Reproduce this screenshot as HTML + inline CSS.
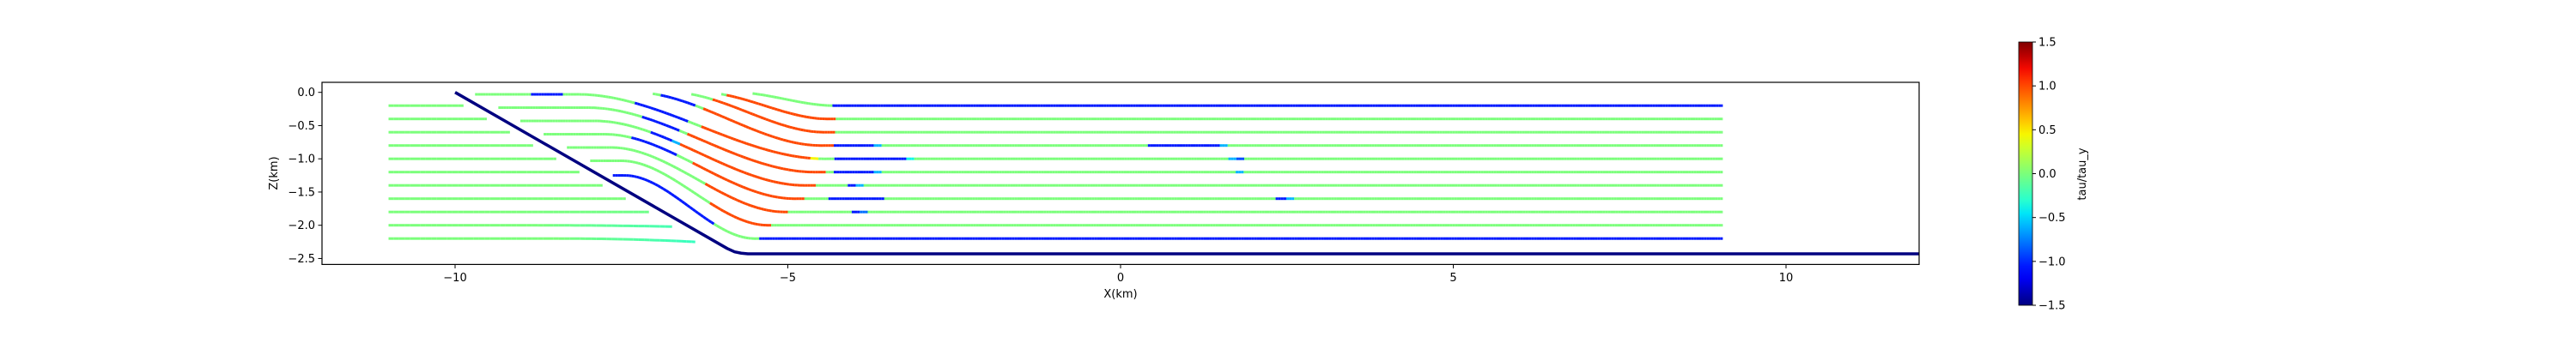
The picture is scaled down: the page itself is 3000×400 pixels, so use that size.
<!DOCTYPE html>
<html><head><meta charset="utf-8"><style>
html,body{margin:0;padding:0;background:#fff;width:3000px;height:400px;overflow:hidden}
svg text{font-family:"DejaVu Sans","Liberation Sans",sans-serif;font-size:13px;fill:#000}
</style></head><body>
<svg id="chart" width="3000" height="400" xmlns="http://www.w3.org/2000/svg">
<defs><linearGradient id="jetgrad" x1="0" y1="1" x2="0" y2="0"></linearGradient>
<clipPath id="plotclip"><rect x="375" y="96" width="1860" height="212"/></clipPath></defs>
<g id="marks" clip-path="url(#plotclip)"></g>
<rect x="375" y="96" width="1860" height="212.4" fill="none" stroke="#000" stroke-width="1.2"/>
<g id="xticks"></g>
<g id="yticks"></g>
<text x="1305" y="347" text-anchor="middle">X(km)</text>
<text transform="translate(323,202) rotate(-90)" text-anchor="middle">Z(km)</text>
<g id="cbar"></g>
<text transform="translate(2429,203) rotate(-90)" text-anchor="middle">tau/tau_y</text>
</svg>
<script>
// ---- data ----
const xTicks = [-10, -5, 0, 5, 10];
const zTicks = [0.0, -0.5, -1.0, -1.5, -2.0, -2.5];
const cbarTicks = [1.5, 1.0, 0.5, 0.0, -0.5, -1.0, -1.5];
const faultX = [-10, -5.91, -5.8, -5.7, -5.6, 12];
const faultZ = [0, -2.35, -2.40, -2.42, -2.43, -2.43];
const leftRowZ = [-0.2, -0.4, -0.6, -0.8, -1.0, -1.2, -1.4, -1.6, -1.8, -2.0, -2.2];
const leftEndValue = [0, 0, 0, 0, 0, 0, 0, 0, -0.05, -0.2, -0.25];
const leftEndDrop = [0, 0, 0, 0, 0, 0, 0, 0, 0, 0.02, 0.05];
const hwStartX = [-5.53, -6.0, -6.45, -7.03, -9.7, -9.35, -9.02, -8.67, -8.32, -7.97, -7.63];
const hwTopZ = [0, 0, 0, 0, -0.03, -0.23, -0.43, -0.63, -0.83, -1.03, -1.25];
const hwFinalZ = [-0.2, -0.4, -0.6, -0.8, -1.0, -1.2, -1.4, -1.6, -1.8, -2.0, -2.2];
const hwBendStart = [-5.8, -6.3, -6.75, -7.3, -8.15, -8.0, -7.9, -7.75, -7.65, -7.5, -7.45];
const hwBendEnd = [-4.3, -4.4, -4.45, -4.5, -4.45, -4.6, -4.75, -4.9, -5.05, -5.3, -5.5];
const hwSegEndX = [
 [-4.34, 9.05],
 [-5.91, -4.28, 9.05],
 [-6.15, -4.29, 9.05],
 [-6.92, -6.37, -6.26, -4.30, -3.70, -3.58, 0.40, 1.48, 1.6, 9.05],
 [-8.86, -8.37, -7.29, -6.49, -6.3, -4.67, -4.56, -4.31, -3.23, -3.11, 1.62, 1.73, 1.84, 9.05],
 [-7.18, -6.62, -6.51, -4.45, -4.32, -3.72, -3.6, 1.73, 1.84, 9.05],
 [-7.08, -6.75, -6.64, -4.58, -4.09, -3.98, -3.86, 9.05],
 [-7.34, -6.69, -6.45, -4.75, -4.39, -3.54, 2.34, 2.47, 2.59, 9.05],
 [-6.26, -5.0, -4.03, -3.91, -3.8, 9.05],
 [-6.17, -5.26, 9.05],
 [-6.1, -5.41, 9.05]
];
const hwSegValue = [
 [0, -1.05],
 [0, 1, 0],
 [0, 1, 0],
 [0, -1.05, 0, 1, -1.05, -0.6, 0, -1.05, -0.6, 0],
 [0, -1.05, 0, -1.05, 0, 1, 0.45, 0, -1.05, -0.4, 0, -0.6, -0.9, 0],
 [0, -1.05, 0, 1, 0, -1.05, -0.6, 0, -0.6, 0],
 [0, -1.05, -0.6, 1, 0, -1.05, -0.6, 0],
 [0, -1.05, 0, 1, 0, -1.05, 0, -1.05, -0.6, 0],
 [0, 1, 0, -1.05, -0.8, 0],
 [0, 1, 0],
 [-1.05, 0, -1.05]
];
// ---- scales ----
const X0 = 1305, K = 77.5, Z0 = 107.7;
const sx = x => X0 + K * x;
const sz = z => Z0 - K * z;
const NS = 'http://www.w3.org/2000/svg';
function interp(a, b, t) { return a + (b - a) * t; }
function jetChan(pts, t) {
  for (let i = 1; i < pts.length; i++) {
    if (t <= pts[i][0]) { const p = pts[i-1], q = pts[i]; return interp(p[1], q[1], (t - p[0]) / (q[0] - p[0])); }
  }
  return pts[pts.length-1][1];
}
function jet(v) {
  let t = Math.max(0, Math.min(1, (v + 1.5) / 3));
  const r = jetChan([[0,0],[0.35,0],[0.66,1],[0.89,1],[1,0.5]], t);
  const g = jetChan([[0,0],[0.125,0],[0.375,1],[0.64,1],[0.91,0],[1,0]], t);
  const b = jetChan([[0,0.5],[0.11,1],[0.34,1],[0.65,0],[1,0]], t);
  return 'rgb(' + Math.round(r*255) + ',' + Math.round(g*255) + ',' + Math.round(b*255) + ')';
}
function faultXAt(z) { return -10 + Math.abs(z) * (10 - 5.91) / 2.35; }
function smooth(t) { t = Math.max(0, Math.min(1, t)); return t * t * (3 - 2 * t); }
const marks = document.getElementById('marks');
function seg(g, x1, z1, x2, z2, col, w) {
  const l = document.createElementNS(NS, 'line');
  l.setAttribute('x1', sx(x1)); l.setAttribute('y1', sz(z1));
  l.setAttribute('x2', sx(x2)); l.setAttribute('y2', sz(z2));
  l.setAttribute('stroke', col); l.setAttribute('stroke-width', w);
  l.setAttribute('stroke-linecap', 'butt');
  
  
  g.appendChild(l);
}
// left (footwall) lines
leftRowZ.forEach((z, i) => {
  const g = document.createElementNS(NS, 'g');
  
  
  marks.appendChild(g);
  const xe = faultXAt(z) - 0.22, xs = -11;
  const step = 0.08;
  for (let x = xs; x < xe - 1e-6; x += step) {
    const x2 = Math.min(xe, x + step);
    const f1 = Math.max(0, (x - (xe - 2)) / 2), f2 = Math.max(0, (x2 - (xe - 2)) / 2);
    const v = leftEndValue[i] * f2;
    seg(g, x, z - leftEndDrop[i] * f1 * f1, x2, z - leftEndDrop[i] * f2 * f2, jet(v), 3);
  }
});
// hanging wall lines
hwStartX.forEach((xs, i) => {
  const g = document.createElementNS(NS, 'g');
  
  
  marks.appendChild(g);
  const zAt = x => hwTopZ[i] + (hwFinalZ[i] - hwTopZ[i]) * smooth((x - hwBendStart[i]) / (hwBendEnd[i] - hwBendStart[i]));
  const valAt = x => { const e = hwSegEndX[i]; for (let k = 0; k < e.length; k++) if (x <= e[k]) return hwSegValue[i][k]; return hwSegValue[i][e.length-1]; };
  const xe = hwSegEndX[i][hwSegEndX[i].length - 1];
  const step = 0.04;
  for (let x = xs; x < xe - 1e-6; x += step) {
    const x2 = Math.min(xe, x + step);
    seg(g, x, zAt(x), x2, zAt(x2), jet(valAt((x + x2) / 2)), 3);
  }
});
// fault
(function(){
  let pts = faultX.map((x, i) => sx(x) + ',' + sz(faultZ[i])).join(' ');
  const p = document.createElementNS(NS, 'polyline');
  p.setAttribute('points', pts);
  p.setAttribute('fill', 'none'); p.setAttribute('stroke', jet(-1.5));
  p.setAttribute('stroke-width', 3.5); p.setAttribute('stroke-linejoin', 'round');
  
  
  marks.appendChild(p);
})();
// axes ticks
const xg = document.getElementById('xticks');
xTicks.forEach(v => {
  const t = document.createElementNS(NS, 'line');
  t.setAttribute('x1', sx(v)); t.setAttribute('x2', sx(v)); t.setAttribute('y1', 308.4); t.setAttribute('y2', 313);
  t.setAttribute('stroke', '#000'); t.setAttribute('stroke-width', 1);
  
  
  xg.appendChild(t);
  const s = document.createElementNS(NS, 'text');
  s.setAttribute('x', sx(v)); s.setAttribute('y', 328); s.setAttribute('text-anchor', 'middle');
  s.textContent = v < 0 ? '\u2212' + Math.abs(v) : String(v);
  
  
  xg.appendChild(s);
});
const yg = document.getElementById('yticks');
zTicks.forEach(v => {
  const t = document.createElementNS(NS, 'line');
  t.setAttribute('x1', 370.5); t.setAttribute('x2', 375); t.setAttribute('y1', sz(v)); t.setAttribute('y2', sz(v));
  t.setAttribute('stroke', '#000'); t.setAttribute('stroke-width', 1);
  
  
  yg.appendChild(t);
  const s = document.createElementNS(NS, 'text');
  s.setAttribute('x', 367); s.setAttribute('y', sz(v) + 4.5); s.setAttribute('text-anchor', 'end');
  s.textContent = (v < 0 ? '\u2212' : '') + Math.abs(v).toFixed(1);
  
  
  yg.appendChild(s);
});
// colorbar
const grad = document.getElementById('jetgrad');
for (let i = 0; i <= 20; i++) {
  const st = document.createElementNS(NS, 'stop');
  st.setAttribute('offset', (i / 20));
  st.setAttribute('stop-color', jet(-1.5 + 3 * i / 20));
  grad.appendChild(st);
}
const cb = document.getElementById('cbar');
const CB_TOP = 49, CB_BOT = 356, CB_X = 2351, CB_W = 16;
const cz = v => CB_BOT - (v + 1.5) / 3 * (CB_BOT - CB_TOP);
const r = document.createElementNS(NS, 'rect');
r.setAttribute('x', CB_X); r.setAttribute('y', CB_TOP); r.setAttribute('width', CB_W); r.setAttribute('height', CB_BOT - CB_TOP);
r.setAttribute('fill', 'url(#jetgrad)'); r.setAttribute('stroke', '#000'); r.setAttribute('stroke-width', 0.8);


cb.appendChild(r);
cbarTicks.forEach(v => {
  const t = document.createElementNS(NS, 'line');
  t.setAttribute('x1', CB_X + CB_W); t.setAttribute('x2', CB_X + CB_W + 4); t.setAttribute('y1', cz(v)); t.setAttribute('y2', cz(v));
  t.setAttribute('stroke', '#000'); t.setAttribute('stroke-width', 1);
  
  
  cb.appendChild(t);
  const s = document.createElementNS(NS, 'text');
  s.setAttribute('x', CB_X + CB_W + 7); s.setAttribute('y', cz(v) + 4.5);
  s.textContent = (v < 0 ? '\u2212' : '') + Math.abs(v).toFixed(1);
  
  
  cb.appendChild(s);
});
</script>
</body></html>
